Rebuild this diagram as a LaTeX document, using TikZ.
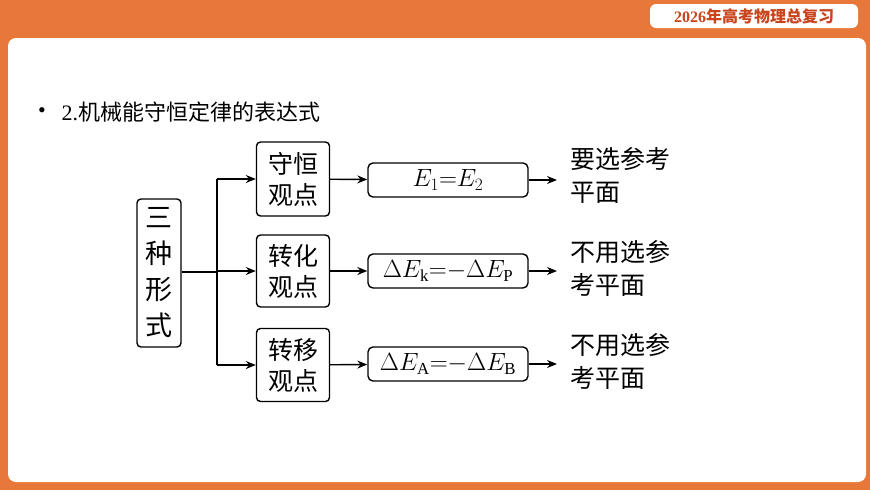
\documentclass[tikz,border=0pt]{standalone}
\usepackage{fontspec}
\setmainfont{Liberation Serif}
\newfontfamily\cjk{Noto Sans CJK SC}
\usetikzlibrary{positioning}
\usetikzlibrary{arrows.meta}
\definecolor{frame}{HTML}{E8783A}
\definecolor{badge}{HTML}{C9441C}
\tikzset{
  box/.style={draw, line width=1.4pt, rounded corners=4pt, inner sep=2pt, align=center, font=\cjk\fontsize{25}{31}\selectfont},
  formbox/.style={draw, line width=1.4pt, rounded corners=5pt, minimum width=160pt, minimum height=34pt, font=\fontsize{24}{28}\selectfont},
  note/.style={anchor=north west, align=left, font=\cjk\fontsize{25}{33}\selectfont},
  arr/.style={line width=1.4pt, -{Stealth[length=10pt,width=8pt]}}
}
\begin{document}
\begin{tikzpicture}[x=1pt,y=-1pt]
\useasboundingbox (0,0) rectangle (870,490);
\fill[frame] (0,0) rectangle (870,490);
\fill[white, rounded corners=8pt] (8,38) rectangle (866,482);
\fill[white, rounded corners=6pt] (650,4) rectangle (858,28);
\node[text=badge, font=\cjk\bfseries\fontsize{16}{18}\selectfont] (badge) at (754,16) {\fontspec{Liberation Serif}\bfseries 2026\cjk 年高考物理总复习};

% title
\node[font=\fontsize{22}{24}\selectfont] (dot) at (42,113) {•};
\node[anchor=west, font=\cjk\fontsize{22}{24}\selectfont] (title) at (58,112) {{\fontspec{Liberation Serif}2.}机械能守恒定律的表达式};

% left box
\node[box, minimum width=44pt, minimum height=148pt, font=\cjk\fontsize{27}{36}\selectfont] (forms) at (159,273) {三\\种\\形\\式};

% middle boxes
\node[box, minimum width=73pt, minimum height=74pt] (keep) at (293,179) {守恒\\观点};
\node[box, minimum width=73pt, minimum height=72pt] (conv) at (293,271) {转化\\观点};
\node[box, minimum width=73pt, minimum height=73pt] (move) at (293,365) {转移\\观点};

% formula boxes
\node[formbox] (f1) at (448,180) {$E_1{=}E_2$};
\node[formbox] (f2) at (448,271) {$\Delta E_{\mathrm{k}}{=}{-}\Delta E_{\mathrm{P}}$};
\node[formbox] (f3) at (448,364) {$\Delta E_{\mathrm{A}}{=}{-}\Delta E_{\mathrm{B}}$};

% end points and notes
\coordinate (e1) at (557,180);
\coordinate (e2) at (557,271);
\coordinate (e3) at (557,364);
\node[note] (n1) at (567,144) {要选参考\\平面};
\node[note] (n2) at (567,237) {不用选参\\考平面};
\node[note] (n3) at (567,330) {不用选参\\考平面};

% connectors
\coordinate (split) at (217,272);
\draw[line width=1.4pt] (forms.east |- split) -- (split);
\draw[line width=1.4pt] (split |- keep) -- (split |- move);
\draw[arr] (split |- keep) -- (keep);
\draw[arr] (split |- conv) -- (conv);
\draw[arr] (split |- move) -- (move);
\draw[arr] (keep) -- (f1);
\draw[arr] (conv) -- (f2);
\draw[arr] (move) -- (f3);
\draw[arr] (f1) -- (e1);
\draw[arr] (f2) -- (e2);
\draw[arr] (f3) -- (e3);
\end{tikzpicture}
\end{document}
